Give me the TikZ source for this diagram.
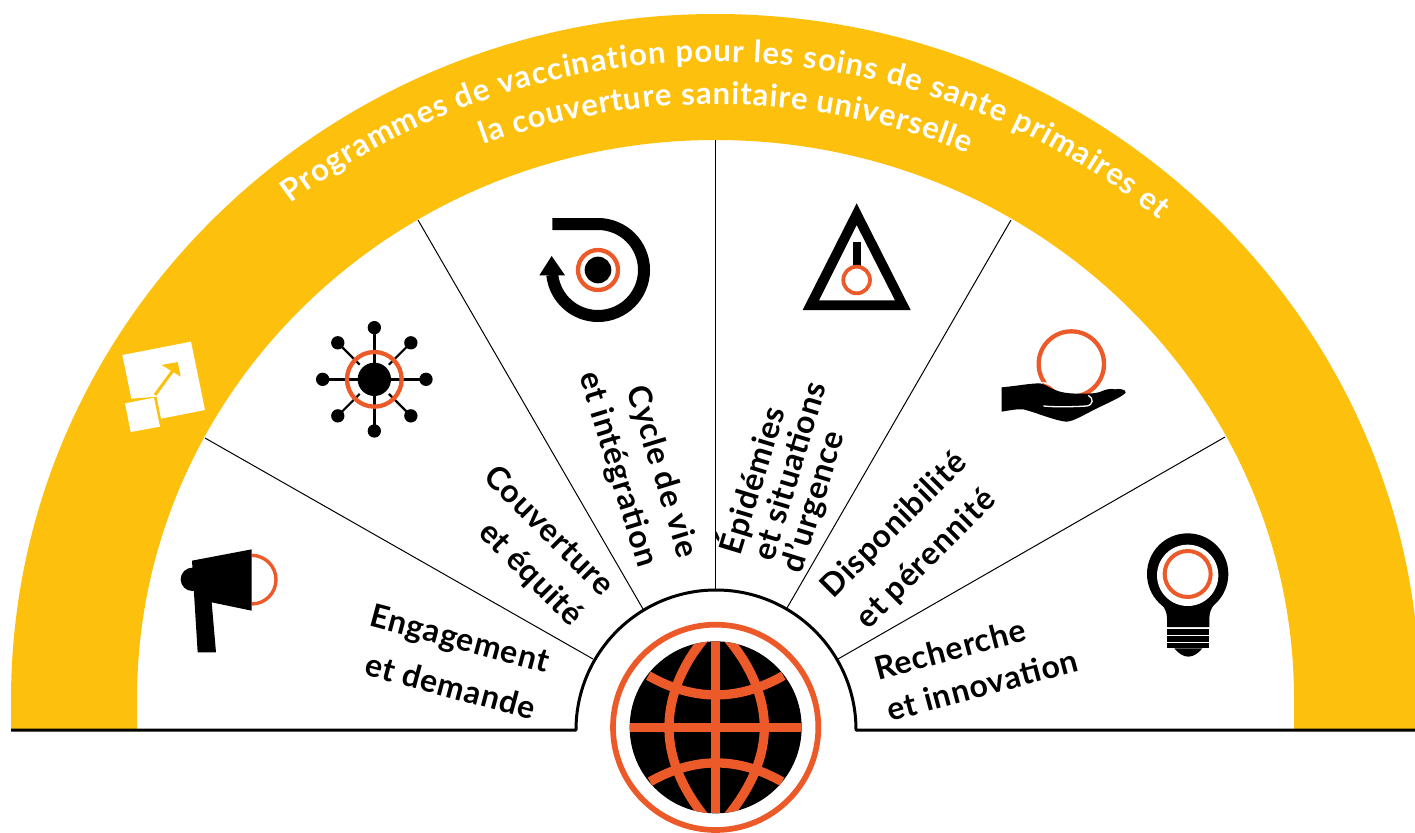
\documentclass[tikz,border=0pt]{standalone}
\usepackage{fontspec}
\setmainfont[LetterSpace=2.5]{Lato}
\newfontfamily\bandfont{Lato}
\usetikzlibrary{decorations.text}
\definecolor{gold}{HTML}{FDC00D}
\definecolor{rust}{HTML}{EC5A2A}
\tikzset{
  lab/.style={font=\bfseries\fontsize{32}{36}\selectfont,inner sep=0pt,text height=24pt,text depth=7pt,anchor=center},
  divider/.style={draw=black,line width=1pt},
  base/.style={draw=black,line width=3pt},
  zoomed/.style={x=0.33333pt,y=-0.33333pt}
}
\newcommand{\bandtext}[2]{\path[decorate,decoration={text along path,text align={fit to path},
     text={|\color{white}\bandfont\bfseries\fontsize{31}{36}\selectfont|#2}}] #1;}
\begin{document}
\begin{tikzpicture}[x=1pt,y=1pt,line cap=butt]
\useasboundingbox (0,-832) rectangle (1415,0);
\clip (0,-832) rectangle (1415,0);
\fill[white] (0,-832) rectangle (1415,0);
% yellow band
\fill[gold] (11,-730) -- (11,-700) arc[start angle=180,end angle=0,x radius=704.5,y radius=686] -- (1420,-730)
  -- (1294,-730) -- (1294,-699) arc[start angle=0,end angle=180,x radius=578.5,y radius=559] -- (137,-730) -- cycle;
% curved titles
\bandtext{(714.3,-767.9) ++(126.9:706) arc[start angle=126.9,end angle=51.0,radius=706]}{Programmes de vaccination pour les soins de sante primaires et}
\bandtext{(715,-785.2) ++(109.9:681) arc[start angle=109.9,end angle=68.2,radius=681]}{la couverture sanitaire universelle}
% dividers
\coordinate (d1a) at (205,-438); \coordinate (d1b) at (593,-659);
\coordinate (d2a) at (418,-220); \coordinate (d2b) at (643,-609);
\coordinate (d3a) at (715.5,-140); \coordinate (d3b) at (715.5,-591);
\coordinate (d4a) at (1011,-220); \coordinate (d4b) at (787,-608);
\coordinate (d5a) at (1225,-437); \coordinate (d5b) at (838,-659);
\foreach \k in {1,...,5} \draw[divider] (d\k a) -- (d\k b);
% base line and hub
\coordinate (bl) at (11,-730); \coordinate (hl) at (576,-730);
\coordinate (hr) at (856,-730); \coordinate (br) at (1415,-730);
\draw[base,line join=round] (bl) -- (hl) arc[start angle=180,end angle=0,radius=140] -- (br);
% globe
\begin{scope}[shift={(570,-580)},zoomed]
  \fill[black] (437,442) circle[radius=258];
  \draw[rust,line width=5.7pt] (437,442) circle[radius=308];
  \begin{scope}
    \clip (437,442) circle[radius=258];
    \draw[rust,line width=9.3pt] (412,165) .. controls (345,240) and (297,340) .. (297,442) .. controls (297,545) and (345,640) .. (412,720);
    \draw[rust,line width=9.3pt] (464,165) .. controls (531,240) and (583,340) .. (583,442) .. controls (583,545) and (531,640) .. (464,720);
    \draw[rust,line width=9.3pt] (437,184) -- (437,700);
    \draw[rust,line width=9.3pt] (180,442) -- (695,442);
  \end{scope}
  \draw[rust,line width=9.3pt] (235,287) .. controls (370,364) and (505,364) .. (640,287);
  \draw[rust,line width=9.3pt] (240,605) .. controls (373,530) and (504,530) .. (636,605);
\end{scope}
% growth icon on band
\begin{scope}[shift={(100,-200)},zoomed]
  \fill[white] (67,465) -- (273,425) -- (315,630) -- (183,656) -- (170,590) -- (94,596) -- cycle;
  \fill[white] (75,610) -- (162,593) -- (180,680) -- (92,696) -- cycle;
  \draw[gold,line width=3pt] (165,585) -- (222,507);
  \fill[gold] (185,495) -- (233,486) -- (242,530) -- cycle;
\end{scope}
% virus icon
\begin{scope}[shift={(100,-200)},zoomed]
  \foreach \a in {0,90,180,270} \draw[black,line width=2.6pt] (823,538) -- ++(\a:155);
  \foreach \a in {45,135,225,315} {\draw[black,line width=2.2pt] (823,538) ++(\a:62) -- ++(\a:93);}
  \foreach \a in {0,45,...,315} \fill[black] (823,538) ++(\a:155) circle[radius=20];
  \fill[black] (823,538) circle[radius=50];
  \draw[rust,line width=4.3pt] (823,538) circle[radius=82];
\end{scope}
% cycle icon
\begin{scope}[shift={(500,-190)},zoomed]
  \draw[black,line width=12pt] (157,102) -- (294,102) arc[start angle=-90,end angle=174,radius=138];
  \fill[black] (155,198) -- (195,256) -- (118,256) -- cycle;
  \fill[black] (294,240) circle[radius=40];
  \draw[rust,line width=4.3pt] (294,240) circle[radius=60];
\end{scope}
% hazard icon
\begin{scope}[shift={(500,-190)},zoomed]
  \fill[black,even odd rule] (1070,40) -- (1232,360) -- (908,360) -- cycle (1070,105) -- (1185,331) -- (957,331) -- cycle;
  \fill[black] (1058,155) rectangle (1083,232);
  \draw[rust,fill=white,line width=3.8pt] (1070,270) circle[radius=40];
\end{scope}
% hand icon
\begin{scope}[shift={(980,-320)},zoomed]
  \draw[rust,line width=4.3pt] (274,132) circle[radius=98];
  \fill[white] (180,186) -- (215,188) -- (240,222) -- (345,222) -- (300,230) -- cycle;
  \fill[black] (65,202) .. controls (110,198) and (150,190) .. (180,190)
    .. controls (205,195) and (215,215) .. (270,220)
    .. controls (310,222) and (345,222) .. (362,215)
    .. controls (375,208) and (395,205) .. (405,208)
    .. controls (420,205) and (437,208) .. (437,218)
    .. controls (425,232) and (380,250) .. (345,268)
    .. controls (310,285) and (280,305) .. (258,305)
    .. controls (225,302) and (170,278) .. (130,268)
    .. controls (110,266) and (85,272) .. (65,275) -- cycle;
  \draw[white,line width=1.3pt] (190,258) .. controls (230,262) and (290,260) .. (320,258)
    .. controls (340,255) and (342,235) .. (325,226);
\end{scope}
% bulb icon
\begin{scope}[shift={(980,-320)},zoomed]
  \fill[black] (623,762) circle[radius=122];
  \fill[black] (515,815) .. controls (535,845) and (561,860) .. (561,895) -- (561,921) -- (688,921) -- (688,895)
     .. controls (688,860) and (712,845) .. (731,815) -- cycle;
  \fill[white] (623,766) circle[radius=92];
  \draw[rust,line width=4pt] (623,762) circle[radius=69];
  \fill[black] (561,926) rectangle (688,944);
  \fill[black] (561,949) rectangle (688,965);
  \fill[black] (561,970) rectangle (688,985);
  \fill[black] (583,985) .. controls (595,1000) and (610,1010) .. (625,1010)
     .. controls (640,1010) and (655,1000) .. (667,985) -- cycle;
\end{scope}
% megaphone icon
\begin{scope}[shift={(160,-530)},zoomed]
  \draw[rust,line width=3.4pt] (275,76) arc[start angle=-90,end angle=90,radius=73];
  \fill[black] (97,148) circle[radius=35];
  \fill[black] (96,92) -- (275,58) -- (275,242) -- (155,217) -- (168,367) -- (113,367) -- cycle;
\end{scope}
% labels
\node[lab,rotate=-15] (t1) at (459,-641) {Engagement};
\node[lab,rotate=-15] (t2) at (450,-689) {et demande};
\node[lab,rotate=-45] (t3) at (548,-532) {Couverture};
\node[lab,rotate=-45] (t4) at (530,-575) {et équité};
\node[lab,rotate=-73] (t5) at (661,-472) {Cycle de vie};
\node[lab,rotate=-73] (t6) at (617,-470) {et intégration};
\node[lab,rotate=73] (t7) at (755,-481) {Épidémies};
\node[lab,rotate=73] (t8) at (792,-472) {et situations};
\node[lab,rotate=73] (t9) at (815,-502) {d'urgence};
\node[lab,rotate=45] (t10) at (895,-526) {Disponibilité};
\node[lab,rotate=45] (t11) at (927,-560) {et pérennité};
\node[lab,rotate=15] (t12) at (951,-652) {Recherche};
\node[lab,rotate=15] (t13) at (983,-688) {et innovation};
\end{tikzpicture}
\end{document}
